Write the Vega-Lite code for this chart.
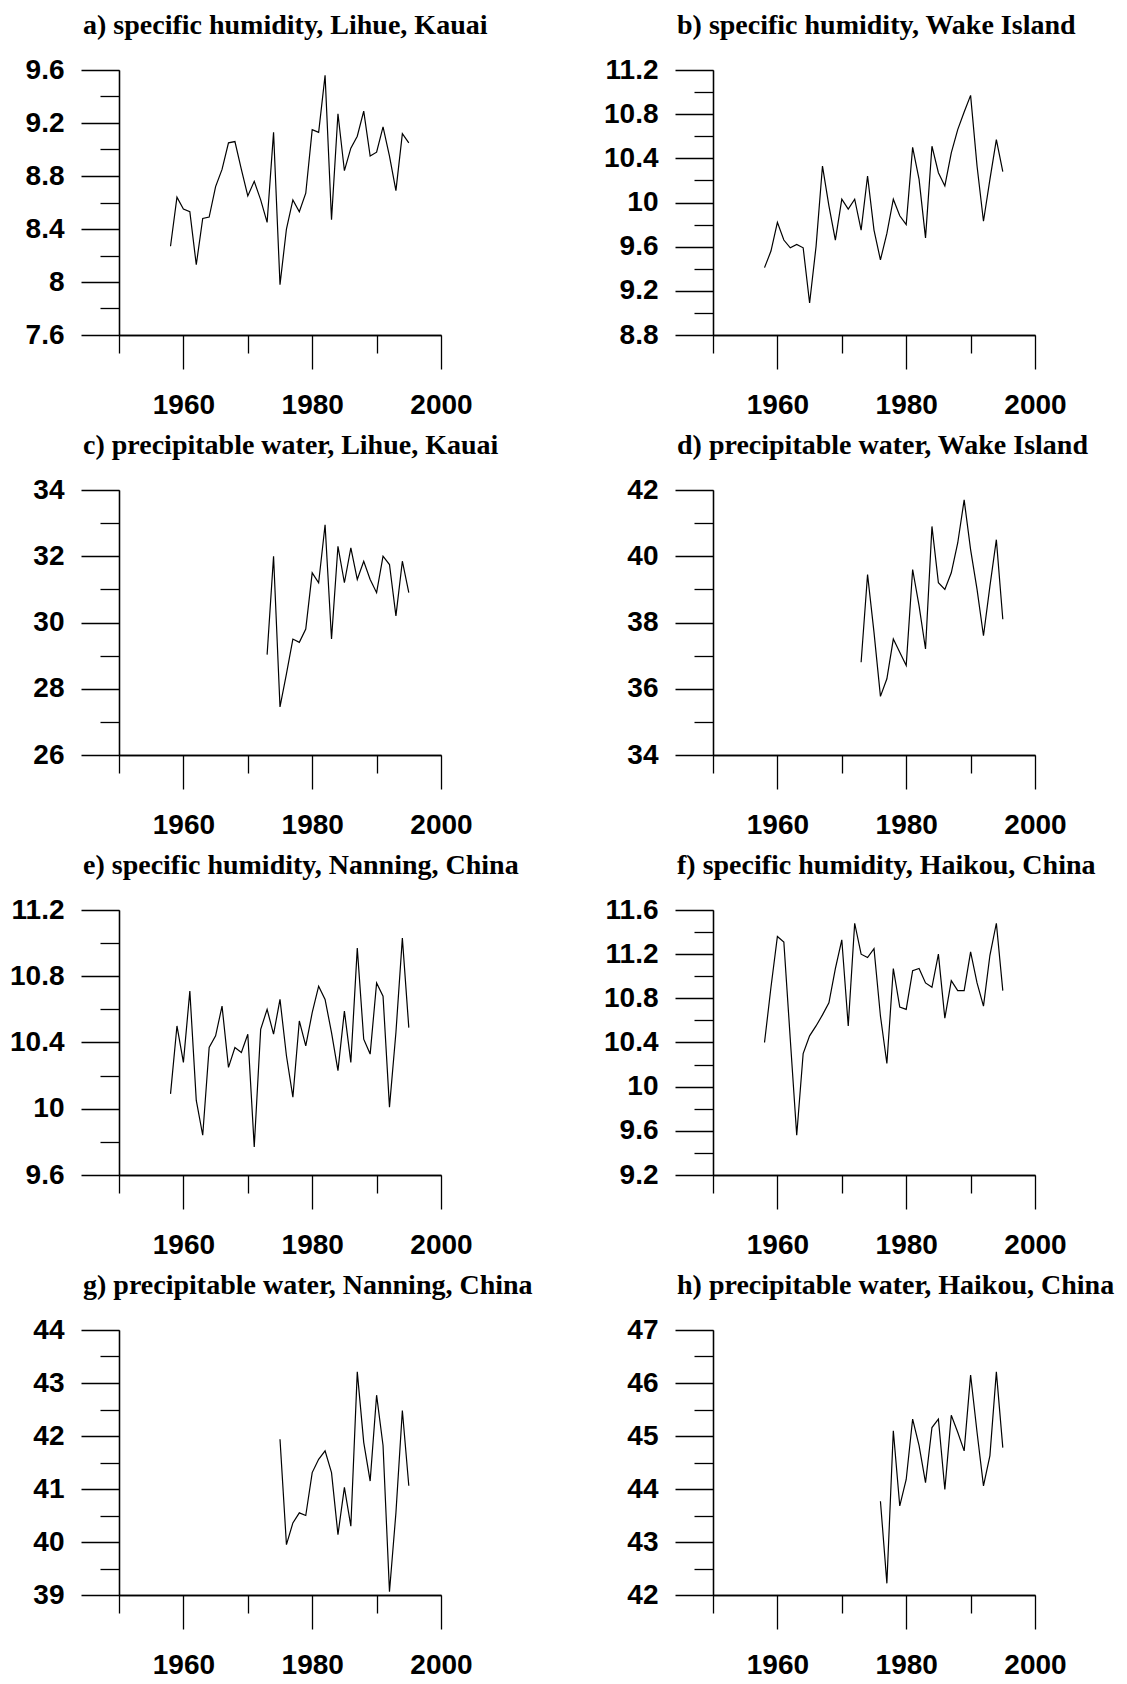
{
  "$schema": "https://vega.github.io/schema/vega-lite/v6.json",
  "padding": {"left": 9, "top": 12, "right": 5, "bottom": 5},
  "background": "white",
  "columns": 2,
  "spacing": {"row": 155, "column": 272},
  "bounds": "flush",
  "datasets": {
    "a": [{"year":1958,"value":8.27},{"year":1959,"value":8.64},{"year":1960,"value":8.55},{"year":1961,"value":8.53},{"year":1962,"value":8.13},{"year":1963,"value":8.48},{"year":1964,"value":8.49},{"year":1965,"value":8.72},{"year":1966,"value":8.85},{"year":1967,"value":9.05},{"year":1968,"value":9.06},{"year":1969,"value":8.85},{"year":1970,"value":8.65},{"year":1971,"value":8.76},{"year":1972,"value":8.62},{"year":1973,"value":8.45},{"year":1974,"value":9.13},{"year":1975,"value":7.98},{"year":1976,"value":8.4},{"year":1977,"value":8.62},{"year":1978,"value":8.53},{"year":1979,"value":8.67},{"year":1980,"value":9.15},{"year":1981,"value":9.13},{"year":1982,"value":9.56},{"year":1983,"value":8.47},{"year":1984,"value":9.27},{"year":1985,"value":8.84},{"year":1986,"value":9.01},{"year":1987,"value":9.1},{"year":1988,"value":9.29},{"year":1989,"value":8.95},{"year":1990,"value":8.98},{"year":1991,"value":9.17},{"year":1992,"value":8.95},{"year":1993,"value":8.69},{"year":1994,"value":9.12},{"year":1995,"value":9.05}],
    "b": [{"year":1958,"value":9.41},{"year":1959,"value":9.56},{"year":1960,"value":9.82},{"year":1961,"value":9.66},{"year":1962,"value":9.59},{"year":1963,"value":9.62},{"year":1964,"value":9.59},{"year":1965,"value":9.09},{"year":1966,"value":9.6},{"year":1967,"value":10.33},{"year":1968,"value":9.97},{"year":1969,"value":9.66},{"year":1970,"value":10.03},{"year":1971,"value":9.94},{"year":1972,"value":10.03},{"year":1973,"value":9.75},{"year":1974,"value":10.24},{"year":1975,"value":9.75},{"year":1976,"value":9.48},{"year":1977,"value":9.72},{"year":1978,"value":10.03},{"year":1979,"value":9.88},{"year":1980,"value":9.8},{"year":1981,"value":10.5},{"year":1982,"value":10.21},{"year":1983,"value":9.68},{"year":1984,"value":10.51},{"year":1985,"value":10.27},{"year":1986,"value":10.15},{"year":1987,"value":10.45},{"year":1988,"value":10.66},{"year":1989,"value":10.82},{"year":1990,"value":10.97},{"year":1991,"value":10.33},{"year":1992,"value":9.83},{"year":1993,"value":10.21},{"year":1994,"value":10.57},{"year":1995,"value":10.28}],
    "c": [{"year":1973,"value":29.03},{"year":1974,"value":32.0},{"year":1975,"value":27.45},{"year":1976,"value":28.45},{"year":1977,"value":29.5},{"year":1978,"value":29.4},{"year":1979,"value":29.8},{"year":1980,"value":31.5},{"year":1981,"value":31.2},{"year":1982,"value":32.95},{"year":1983,"value":29.5},{"year":1984,"value":32.3},{"year":1985,"value":31.2},{"year":1986,"value":32.25},{"year":1987,"value":31.3},{"year":1988,"value":31.85},{"year":1989,"value":31.3},{"year":1990,"value":30.9},{"year":1991,"value":32.0},{"year":1992,"value":31.75},{"year":1993,"value":30.2},{"year":1994,"value":31.85},{"year":1995,"value":30.9}],
    "d": [{"year":1973,"value":36.8},{"year":1974,"value":39.45},{"year":1975,"value":37.7},{"year":1976,"value":35.77},{"year":1977,"value":36.3},{"year":1978,"value":37.5},{"year":1979,"value":37.1},{"year":1980,"value":36.7},{"year":1981,"value":39.6},{"year":1982,"value":38.5},{"year":1983,"value":37.2},{"year":1984,"value":40.9},{"year":1985,"value":39.2},{"year":1986,"value":39.0},{"year":1987,"value":39.5},{"year":1988,"value":40.4},{"year":1989,"value":41.7},{"year":1990,"value":40.2},{"year":1991,"value":39.0},{"year":1992,"value":37.6},{"year":1993,"value":39.1},{"year":1994,"value":40.5},{"year":1995,"value":38.1}],
    "e": [{"year":1958,"value":10.09},{"year":1959,"value":10.5},{"year":1960,"value":10.28},{"year":1961,"value":10.71},{"year":1962,"value":10.05},{"year":1963,"value":9.84},{"year":1964,"value":10.37},{"year":1965,"value":10.44},{"year":1966,"value":10.62},{"year":1967,"value":10.25},{"year":1968,"value":10.37},{"year":1969,"value":10.34},{"year":1970,"value":10.45},{"year":1971,"value":9.77},{"year":1972,"value":10.48},{"year":1973,"value":10.6},{"year":1974,"value":10.45},{"year":1975,"value":10.66},{"year":1976,"value":10.32},{"year":1977,"value":10.07},{"year":1978,"value":10.53},{"year":1979,"value":10.38},{"year":1980,"value":10.58},{"year":1981,"value":10.74},{"year":1982,"value":10.66},{"year":1983,"value":10.46},{"year":1984,"value":10.23},{"year":1985,"value":10.59},{"year":1986,"value":10.28},{"year":1987,"value":10.97},{"year":1988,"value":10.42},{"year":1989,"value":10.33},{"year":1990,"value":10.76},{"year":1991,"value":10.68},{"year":1992,"value":10.01},{"year":1993,"value":10.46},{"year":1994,"value":11.03},{"year":1995,"value":10.49}],
    "f": [{"year":1958,"value":10.4},{"year":1959,"value":10.9},{"year":1960,"value":11.36},{"year":1961,"value":11.31},{"year":1962,"value":10.43},{"year":1963,"value":9.56},{"year":1964,"value":10.3},{"year":1965,"value":10.46},{"year":1966,"value":10.55},{"year":1967,"value":10.65},{"year":1968,"value":10.76},{"year":1969,"value":11.07},{"year":1970,"value":11.33},{"year":1971,"value":10.55},{"year":1972,"value":11.48},{"year":1973,"value":11.2},{"year":1974,"value":11.17},{"year":1975,"value":11.25},{"year":1976,"value":10.64},{"year":1977,"value":10.21},{"year":1978,"value":11.07},{"year":1979,"value":10.72},{"year":1980,"value":10.7},{"year":1981,"value":11.05},{"year":1982,"value":11.07},{"year":1983,"value":10.94},{"year":1984,"value":10.9},{"year":1985,"value":11.2},{"year":1986,"value":10.62},{"year":1987,"value":10.96},{"year":1988,"value":10.87},{"year":1989,"value":10.87},{"year":1990,"value":11.22},{"year":1991,"value":10.94},{"year":1992,"value":10.73},{"year":1993,"value":11.19},{"year":1994,"value":11.48},{"year":1995,"value":10.87}],
    "g": [{"year":1975,"value":41.94},{"year":1976,"value":39.95},{"year":1977,"value":40.36},{"year":1978,"value":40.55},{"year":1979,"value":40.5},{"year":1980,"value":41.31},{"year":1981,"value":41.56},{"year":1982,"value":41.72},{"year":1983,"value":41.31},{"year":1984,"value":40.14},{"year":1985,"value":41.03},{"year":1986,"value":40.3},{"year":1987,"value":43.21},{"year":1988,"value":41.88},{"year":1989,"value":41.15},{"year":1990,"value":42.77},{"year":1991,"value":41.82},{"year":1992,"value":39.06},{"year":1993,"value":40.55},{"year":1994,"value":42.48},{"year":1995,"value":41.06}],
    "h": [{"year":1976,"value":43.77},{"year":1977,"value":42.22},{"year":1978,"value":45.1},{"year":1979,"value":43.68},{"year":1980,"value":44.18},{"year":1981,"value":45.32},{"year":1982,"value":44.82},{"year":1983,"value":44.12},{"year":1984,"value":45.16},{"year":1985,"value":45.32},{"year":1986,"value":43.99},{"year":1987,"value":45.39},{"year":1988,"value":45.07},{"year":1989,"value":44.72},{"year":1990,"value":46.15},{"year":1991,"value":45.07},{"year":1992,"value":44.06},{"year":1993,"value":44.63},{"year":1994,"value":46.21},{"year":1995,"value":44.78}]
  },
  "concat": [
    {"title": "a) specific humidity, Lihue, Kauai", "data": {"name": "a"}, "width": 322, "height": 265,
     "layer": [
      {"mark": {"type": "line", "color": "black", "strokeWidth": 1.2},
       "encoding": {"x": {"field": "year", "type": "quantitative", "title": null, "scale": {"domain": [1950, 2000]}, "axis": {"values": [1960, 1980, 2000], "tickSize": 34, "format": "d"}},
                    "y": {"field": "value", "type": "quantitative", "title": null, "scale": {"domain": [7.6, 9.6], "zero": false}, "axis": {"values": [7.6, 8, 8.4, 8.8, 9.2, 9.6], "tickSize": 38, "format": "~g"}}}},
      {"mark": {"type": "line", "opacity": 0},
       "encoding": {"x": {"field": "year", "type": "quantitative", "title": null, "axis": {"orient": "bottom", "values": [1950, 1970, 1990], "tickSize": 18, "labels": false}},
                    "y": {"field": "value", "type": "quantitative", "title": null, "axis": {"orient": "left", "values": [7.8, 8.2, 8.6, 9.0, 9.4], "tickSize": 19, "labels": false}}}}
     ],
     "resolve": {"axis": {"x": "independent", "y": "independent"}}},
    {"title": "b) specific humidity, Wake Island", "data": {"name": "b"}, "width": 322, "height": 265,
     "layer": [
      {"mark": {"type": "line", "color": "black", "strokeWidth": 1.2},
       "encoding": {"x": {"field": "year", "type": "quantitative", "title": null, "scale": {"domain": [1950, 2000]}, "axis": {"values": [1960, 1980, 2000], "tickSize": 34, "format": "d"}},
                    "y": {"field": "value", "type": "quantitative", "title": null, "scale": {"domain": [8.8, 11.2], "zero": false}, "axis": {"values": [8.8, 9.2, 9.6, 10, 10.4, 10.8, 11.2], "tickSize": 38, "format": "~g"}}}},
      {"mark": {"type": "line", "opacity": 0},
       "encoding": {"x": {"field": "year", "type": "quantitative", "title": null, "axis": {"orient": "bottom", "values": [1950, 1970, 1990], "tickSize": 18, "labels": false}},
                    "y": {"field": "value", "type": "quantitative", "title": null, "axis": {"orient": "left", "values": [9.0, 9.4, 9.8, 10.2, 10.6, 11.0], "tickSize": 19, "labels": false}}}}
     ],
     "resolve": {"axis": {"x": "independent", "y": "independent"}}},
    {"title": "c) precipitable water, Lihue, Kauai", "data": {"name": "c"}, "width": 322, "height": 265,
     "layer": [
      {"mark": {"type": "line", "color": "black", "strokeWidth": 1.2},
       "encoding": {"x": {"field": "year", "type": "quantitative", "title": null, "scale": {"domain": [1950, 2000]}, "axis": {"values": [1960, 1980, 2000], "tickSize": 34, "format": "d"}},
                    "y": {"field": "value", "type": "quantitative", "title": null, "scale": {"domain": [26, 34], "zero": false}, "axis": {"values": [26, 28, 30, 32, 34], "tickSize": 38, "format": "~g"}}}},
      {"mark": {"type": "line", "opacity": 0},
       "encoding": {"x": {"field": "year", "type": "quantitative", "title": null, "axis": {"orient": "bottom", "values": [1950, 1970, 1990], "tickSize": 18, "labels": false}},
                    "y": {"field": "value", "type": "quantitative", "title": null, "axis": {"orient": "left", "values": [27, 29, 31, 33], "tickSize": 19, "labels": false}}}}
     ],
     "resolve": {"axis": {"x": "independent", "y": "independent"}}},
    {"title": "d) precipitable water, Wake Island", "data": {"name": "d"}, "width": 322, "height": 265,
     "layer": [
      {"mark": {"type": "line", "color": "black", "strokeWidth": 1.2},
       "encoding": {"x": {"field": "year", "type": "quantitative", "title": null, "scale": {"domain": [1950, 2000]}, "axis": {"values": [1960, 1980, 2000], "tickSize": 34, "format": "d"}},
                    "y": {"field": "value", "type": "quantitative", "title": null, "scale": {"domain": [34, 42], "zero": false}, "axis": {"values": [34, 36, 38, 40, 42], "tickSize": 38, "format": "~g"}}}},
      {"mark": {"type": "line", "opacity": 0},
       "encoding": {"x": {"field": "year", "type": "quantitative", "title": null, "axis": {"orient": "bottom", "values": [1950, 1970, 1990], "tickSize": 18, "labels": false}},
                    "y": {"field": "value", "type": "quantitative", "title": null, "axis": {"orient": "left", "values": [35, 37, 39, 41], "tickSize": 19, "labels": false}}}}
     ],
     "resolve": {"axis": {"x": "independent", "y": "independent"}}},
    {"title": "e) specific humidity, Nanning, China", "data": {"name": "e"}, "width": 322, "height": 265,
     "layer": [
      {"mark": {"type": "line", "color": "black", "strokeWidth": 1.2},
       "encoding": {"x": {"field": "year", "type": "quantitative", "title": null, "scale": {"domain": [1950, 2000]}, "axis": {"values": [1960, 1980, 2000], "tickSize": 34, "format": "d"}},
                    "y": {"field": "value", "type": "quantitative", "title": null, "scale": {"domain": [9.6, 11.2], "zero": false}, "axis": {"values": [9.6, 10, 10.4, 10.8, 11.2], "tickSize": 38, "format": "~g"}}}},
      {"mark": {"type": "line", "opacity": 0},
       "encoding": {"x": {"field": "year", "type": "quantitative", "title": null, "axis": {"orient": "bottom", "values": [1950, 1970, 1990], "tickSize": 18, "labels": false}},
                    "y": {"field": "value", "type": "quantitative", "title": null, "axis": {"orient": "left", "values": [9.8, 10.2, 10.6, 11.0], "tickSize": 19, "labels": false}}}}
     ],
     "resolve": {"axis": {"x": "independent", "y": "independent"}}},
    {"title": "f) specific humidity, Haikou, China", "data": {"name": "f"}, "width": 322, "height": 265,
     "layer": [
      {"mark": {"type": "line", "color": "black", "strokeWidth": 1.2},
       "encoding": {"x": {"field": "year", "type": "quantitative", "title": null, "scale": {"domain": [1950, 2000]}, "axis": {"values": [1960, 1980, 2000], "tickSize": 34, "format": "d"}},
                    "y": {"field": "value", "type": "quantitative", "title": null, "scale": {"domain": [9.2, 11.6], "zero": false}, "axis": {"values": [9.2, 9.6, 10, 10.4, 10.8, 11.2, 11.6], "tickSize": 38, "format": "~g"}}}},
      {"mark": {"type": "line", "opacity": 0},
       "encoding": {"x": {"field": "year", "type": "quantitative", "title": null, "axis": {"orient": "bottom", "values": [1950, 1970, 1990], "tickSize": 18, "labels": false}},
                    "y": {"field": "value", "type": "quantitative", "title": null, "axis": {"orient": "left", "values": [9.4, 9.8, 10.2, 10.6, 11.0, 11.4], "tickSize": 19, "labels": false}}}}
     ],
     "resolve": {"axis": {"x": "independent", "y": "independent"}}},
    {"title": "g) precipitable water, Nanning, China", "data": {"name": "g"}, "width": 322, "height": 265,
     "layer": [
      {"mark": {"type": "line", "color": "black", "strokeWidth": 1.2},
       "encoding": {"x": {"field": "year", "type": "quantitative", "title": null, "scale": {"domain": [1950, 2000]}, "axis": {"values": [1960, 1980, 2000], "tickSize": 34, "format": "d"}},
                    "y": {"field": "value", "type": "quantitative", "title": null, "scale": {"domain": [39, 44], "zero": false}, "axis": {"values": [39, 40, 41, 42, 43, 44], "tickSize": 38, "format": "~g"}}}},
      {"mark": {"type": "line", "opacity": 0},
       "encoding": {"x": {"field": "year", "type": "quantitative", "title": null, "axis": {"orient": "bottom", "values": [1950, 1970, 1990], "tickSize": 18, "labels": false}},
                    "y": {"field": "value", "type": "quantitative", "title": null, "axis": {"orient": "left", "values": [39.5, 40.5, 41.5, 42.5, 43.5], "tickSize": 19, "labels": false}}}}
     ],
     "resolve": {"axis": {"x": "independent", "y": "independent"}}},
    {"title": "h) precipitable water, Haikou, China", "data": {"name": "h"}, "width": 322, "height": 265,
     "layer": [
      {"mark": {"type": "line", "color": "black", "strokeWidth": 1.2},
       "encoding": {"x": {"field": "year", "type": "quantitative", "title": null, "scale": {"domain": [1950, 2000]}, "axis": {"values": [1960, 1980, 2000], "tickSize": 34, "format": "d"}},
                    "y": {"field": "value", "type": "quantitative", "title": null, "scale": {"domain": [42, 47], "zero": false}, "axis": {"values": [42, 43, 44, 45, 46, 47], "tickSize": 38, "format": "~g"}}}},
      {"mark": {"type": "line", "opacity": 0},
       "encoding": {"x": {"field": "year", "type": "quantitative", "title": null, "axis": {"orient": "bottom", "values": [1950, 1970, 1990], "tickSize": 18, "labels": false}},
                    "y": {"field": "value", "type": "quantitative", "title": null, "axis": {"orient": "left", "values": [42.5, 43.5, 44.5, 45.5, 46.5], "tickSize": 19, "labels": false}}}}
     ],
     "resolve": {"axis": {"x": "independent", "y": "independent"}}}
  ],
  "config": {
    "view": {"stroke": null},
    "axis": {"grid": false, "domainColor": "black", "domainWidth": 1.3, "tickColor": "black", "tickWidth": 1.3,
             "labelFont": "Liberation Sans", "labelFontWeight": "bold", "labelFontSize": 28, "labelColor": "black", "labelFlush": false, "labelOverlap": false},
    "axisX": {"labelPadding": 22},
    "axisY": {"labelPadding": 17},
    "title": {"font": "Liberation Serif", "fontSize": 28, "fontWeight": "bold", "color": "black", "anchor": "start", "frame": "group", "dx": -36, "offset": 16}
  }
}
